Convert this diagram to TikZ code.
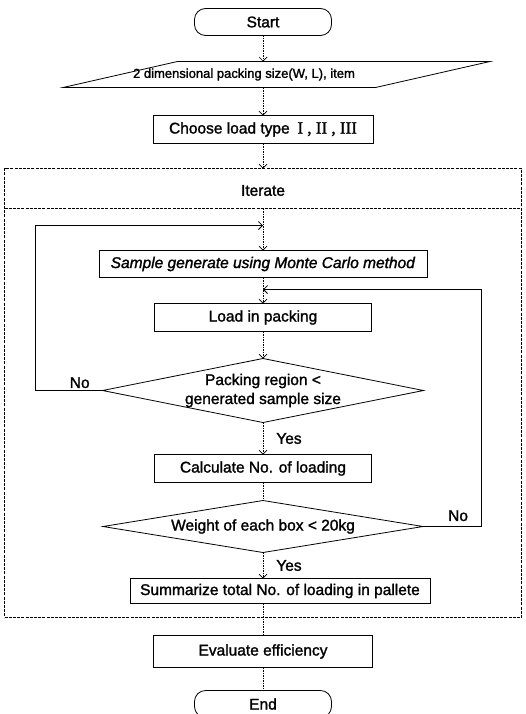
\documentclass[tikz,border=0pt]{standalone}
\usepackage{fontspec}
\setmainfont{Liberation Sans}[FakeBold=1.5]
\newfontfamily\romfont{Liberation Serif}[FakeBold=1.5]
\usetikzlibrary{arrows.meta,positioning,shapes.geometric}

\begin{document}
\begin{tikzpicture}[
  x=1pt, y=-1pt,
  font=\fontsize{15.5}{19}\selectfont,
  box/.style={draw, line width=0.8pt, inner sep=0pt, outer sep=0pt, align=center,
              minimum width=217pt, minimum height=28pt},
  term/.style={box, rounded corners=11pt, minimum width=137pt, minimum height=27pt},
  io/.style={draw, line width=0.8pt, outer sep=0pt, trapezium, trapezium left angle=60,
             trapezium right angle=120, trapezium stretches=true,
             minimum width=427pt, minimum height=26pt},
  dec/.style={box, diamond, inner xsep=-6pt, inner ysep=-4pt},
  frm/.style={draw, line width=0.6pt, dash pattern=on 3pt off 1.2pt},
  ln/.style={line width=0.7pt, dash pattern=on 1.5pt off 1pt},
  ar/.style={ln, -{Straight Barb[length=4pt, width=8pt]}},
  back/.style={line width=0.8pt, -{Straight Barb[length=4pt, width=8pt]}},
  lbl/.style={inner sep=2pt}
]
\useasboundingbox (0,0) rectangle (526,714);
\node[term] (start) at (263,22) {Start};
\node[io, below=26pt of start, xshift=13.5pt] (inbox) {};
\node[font=\fontsize{13}{15}\selectfont] (intext) at ([xshift=-32.5pt]inbox.center)
      {2 dimensional packing size(W, L), item};
\node[box, below=28pt of inbox, xshift=-13.5pt, minimum width=220pt] (choose)
      {Choose load type\enspace{\romfont\fontsize{17}{19}\selectfont I , II , III}};
\node[frm, below=25pt of choose, minimum width=517pt, minimum height=449pt,
      inner sep=0pt, outer sep=0pt] (iter) {};
\node (ittext) at ([yshift=-22pt]iter.north) {Iterate};
\coordinate (sepmid) at ([yshift=-40pt]iter.north);
\coordinate (lft) at ([xshift=31pt]iter.west);
\coordinate (rgt) at ([xshift=-40pt]iter.east);
\node[box, below=42pt of sepmid, minimum width=328pt, minimum height=27pt] (sample)
      {\textit{Sample generate using Monte Carlo method}};
\node[box, below=26pt of sample] (load) {Load in packing};
\node[dec, below=27pt of load, aspect=5, minimum width=321pt, minimum height=64pt] (pack)
      {Packing region <\\generated sample size};
\node[box, below=32pt of pack] (calc) {Calculate No. of loading};
\node[dec, below=18pt of calc, aspect=6, minimum width=320pt, minimum height=52pt] (weight)
      {Weight of each box < 20kg};
\node[box, below=26pt of weight, xshift=17pt, minimum width=300pt, minimum height=25pt] (summ)
      {Summarize total No. of loading in pallete};
\node[box, below=32pt of summ, xshift=-17pt, minimum width=219pt, minimum height=32pt] (eval)
      {Evaluate efficiency};
\node[term, below=23pt of eval] (end) {End};
\coordinate (ret1) at ([yshift=25pt]sample.north);
\coordinate (ret2) at ([yshift=14pt]load.north);
\draw[frm] (iter.west |- sepmid) -- (iter.east |- sepmid);
\draw[ar] (start) -- (start |- inbox.north);
\draw[ar] (choose |- inbox.south) -- (choose);
\draw[ar] (choose) -- (choose |- iter.north);
\draw[ar] (sample |- sepmid) -- (sample);
\draw[ar] (sample) -- (load);
\draw[ar] (load) -- (pack);
\draw[back] (pack.west) -- node[lbl, above, pos=0.34] {No} (pack.west -| lft) |- (ret1);
\draw[ar] (pack) -- node[lbl, right=11pt] {Yes} (calc);
\draw[ln] (calc) -- (weight);
\draw[back] (weight.east) -- node[lbl, above, pos=0.6, yshift=3pt] {No} (weight.east -| rgt) |- (ret2);
\draw[ar] (weight.south) -- node[lbl, right=11pt] {Yes} (weight.south |- summ.north);
\draw[ln] (eval |- summ.south) -- (eval);
\draw[ln] (eval) -- (end);
\end{tikzpicture}
\end{document}
